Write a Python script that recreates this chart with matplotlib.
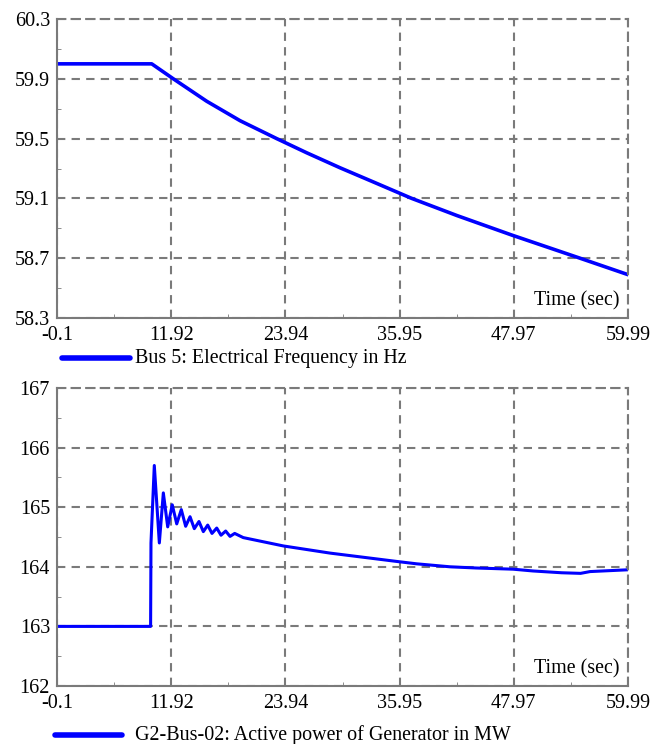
import matplotlib
matplotlib.use("Agg")
import matplotlib.pyplot as plt
from matplotlib.lines import Line2D

# time axis ticks (shared by both panels)
x_ticks = [-0.1, 11.92, 23.94, 35.95, 47.97, 59.99]
x_labels = ["-0.1", "11.92", "23.94", "35.95", "47.97", "59.99"]

# Bus 5 frequency (Hz)
freq_t = [-0.1, 9.87, 12.14, 15.65, 19.16, 23.02, 26.18, 29.68, 33.19,
          37.23, 42.0, 47.75, 54.94, 59.99]
freq = [60.0, 60.0, 59.9, 59.75, 59.62, 59.5, 59.405, 59.305, 59.21,
        59.1, 58.985, 58.855, 58.70, 58.59]
freq_ticks = [58.3, 58.7, 59.1, 59.5, 59.9, 60.3]

# G2-Bus-02 active power (MW)
power_t = [-0.1, 9.75, 9.79, 10.14, 10.67, 11.09, 11.55, 12.03, 12.50, 12.98,
           13.44, 13.90, 14.35, 14.84, 15.30, 15.76, 16.21, 16.71, 17.16,
           17.65, 18.11, 18.60, 19.5, 23.72, 28.63, 35.65, 37.75, 41.26,
           44.0, 47.9, 50.0, 53.0, 55.0, 56.0, 59.99]
power = [163, 163, 164.4, 165.7, 164.4, 165.24, 164.67, 165.04, 164.72,
         164.96, 164.68, 164.84, 164.64, 164.76, 164.59, 164.70, 164.56,
         164.65, 164.53, 164.60, 164.51, 164.56, 164.49, 164.35, 164.23,
         164.09, 164.05, 164.0, 163.98, 163.96, 163.93, 163.9, 163.89,
         163.92, 163.95]
power_ticks = [162, 163, 164, 165, 166, 167]

FONT = "Liberation Serif"
FS_TICK = 14.5
FS_TEXT = 14.4
GRID = "#7a7a7a"
BLUE = "#0000ff"

plt.rcParams["font.family"] = [FONT, "DejaVu Serif"]


def style_axes(ax, yticks, ylabels):
    ax.set_xlim(x_ticks[0], x_ticks[-1])
    ax.set_ylim(yticks[0], yticks[-1])
    ax.set_xticks(x_ticks)
    ax.set_xticklabels(x_labels, fontsize=FS_TICK)
    ax.set_yticks(yticks)
    ax.set_yticklabels(ylabels, fontsize=FS_TICK)
    xm = [(a + b) / 2 for a, b in zip(x_ticks[:-1], x_ticks[1:])]
    ym = [(a + b) / 2 for a, b in zip(yticks[:-1], yticks[1:])]
    ax.set_xticks(xm, minor=True)
    ax.set_yticks(ym, minor=True)
    ax.tick_params(axis="x", which="major", length=0, pad=6)
    ax.tick_params(axis="y", which="major", length=0, pad=5)
    ax.tick_params(which="minor", length=3, direction="in", color=GRID)
    ax.grid(True, which="major", color=GRID, linestyle=(0, (4, 3)), linewidth=1.5)
    for s in ["left", "bottom"]:
        ax.spines[s].set_color(GRID)
        ax.spines[s].set_linewidth(1.5)
    for s in ["top", "right"]:
        ax.spines[s].set_color(GRID)
        ax.spines[s].set_linewidth(1.5)
        ax.spines[s].set_linestyle((0, (4, 3)))
    ax.text(0.985, 0.025, "Time (sec)", transform=ax.transAxes, ha="right",
            va="bottom", fontsize=FS_TEXT)
    ax.set_axisbelow(True)


fig = plt.figure(figsize=(6.54, 7.44), dpi=100)

ax1 = fig.add_axes([57 / 654, 1 - 318 / 744, 571 / 654, 299 / 744])
ax1.plot(freq_t, freq, color=BLUE, linewidth=2.6)
style_axes(ax1, freq_ticks, [f"{v:.1f}" for v in freq_ticks])

ax2 = fig.add_axes([57 / 654, 1 - 686 / 744, 571 / 654, 298 / 744])
ax2.plot(power_t, power, color=BLUE, linewidth=2.2)
style_axes(ax2, power_ticks, [str(v) for v in power_ticks])

# legends under each panel
fig.add_artist(Line2D([62 / 654, 130 / 654], [1 - 358 / 744] * 2,
                      color=BLUE, linewidth=4, solid_capstyle="round"))
fig.text(135 / 654, 1 - 358 / 744, "Bus 5: Electrical Frequency in Hz",
         fontsize=FS_TEXT, va="center", ha="left")
fig.add_artist(Line2D([55 / 654, 122 / 654], [1 - 735 / 744] * 2,
                      color=BLUE, linewidth=4, solid_capstyle="round"))
fig.text(135 / 654, 1 - 735 / 744, "G2-Bus-02: Active power of Generator in MW",
         fontsize=FS_TEXT, va="center", ha="left")

fig.savefig("out.png", dpi=100)
